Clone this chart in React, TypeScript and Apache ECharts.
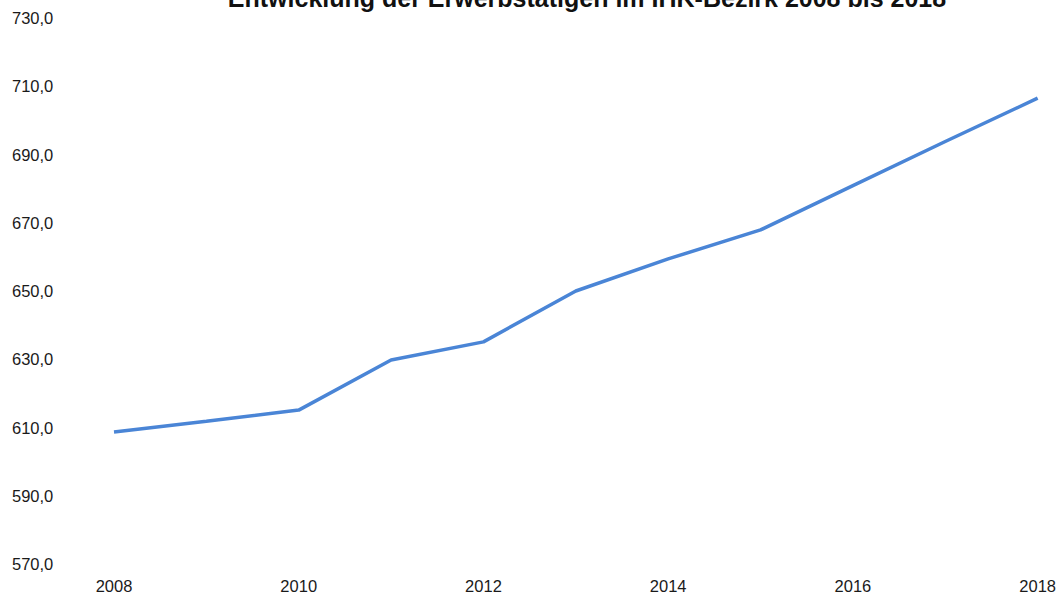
import React, { useEffect, useRef } from "react";
import * as echarts from "echarts";

const years = ["2008", "2009", "2010", "2011", "2012", "2013", "2014", "2015", "2016", "2017", "2018"];
const erwerbstaetige = [608.7, 611.8, 615.1, 629.8, 635.1, 650.0, 659.4, 667.9, 680.9, 693.8, 706.5];
const titleText = "Entwicklung der Erwerbstätigen im IHK-Bezirk 2008 bis 2018";

export default function App() {
  const ref = useRef<HTMLDivElement>(null);
  useEffect(() => {
    if (!ref.current) return;
    const chart = echarts.init(ref.current, null, { renderer: "svg" });
    chart.setOption({
      animation: false,
      backgroundColor: "#ffffff",
      title: {
        text: titleText,
        left: 582,
        textAlign: "center",
        top: -20,
        textStyle: { fontFamily: "Liberation Sans", fontWeight: "bold", fontSize: 25, color: "#111" },
      },
      grid: { left: 114, right: 21, top: 18, bottom: 33, containLabel: false },
      xAxis: {
        type: "category",
        data: years,
        boundaryGap: false,
        axisLine: { show: false },
        axisTick: { show: false },
        axisLabel: {
          interval: 1,
          margin: 13,
          fontFamily: "Liberation Sans",
          fontSize: 16.5,
          color: "#1a1a1a",
        },
      },
      yAxis: {
        type: "value",
        min: 570,
        max: 730,
        interval: 20,
        splitLine: { show: false },
        axisLine: { show: false },
        axisTick: { show: false },
        axisLabel: {
          align: "left",
          margin: 102,
          fontFamily: "Liberation Sans",
          fontSize: 16.5,
          color: "#1a1a1a",
          formatter: (v: number) => v.toFixed(1).replace(".", ","),
        },
      },
      series: [
        {
          type: "line",
          data: erwerbstaetige,
          showSymbol: false,
          lineStyle: { color: "#4a85d6", width: 3.5 },
        },
      ],
    });
    return () => chart.dispose();
  }, []);
  return <div ref={ref} style={{ position: "fixed", left: 0, top: 0, width: 1059, height: 597 }} />;
}
